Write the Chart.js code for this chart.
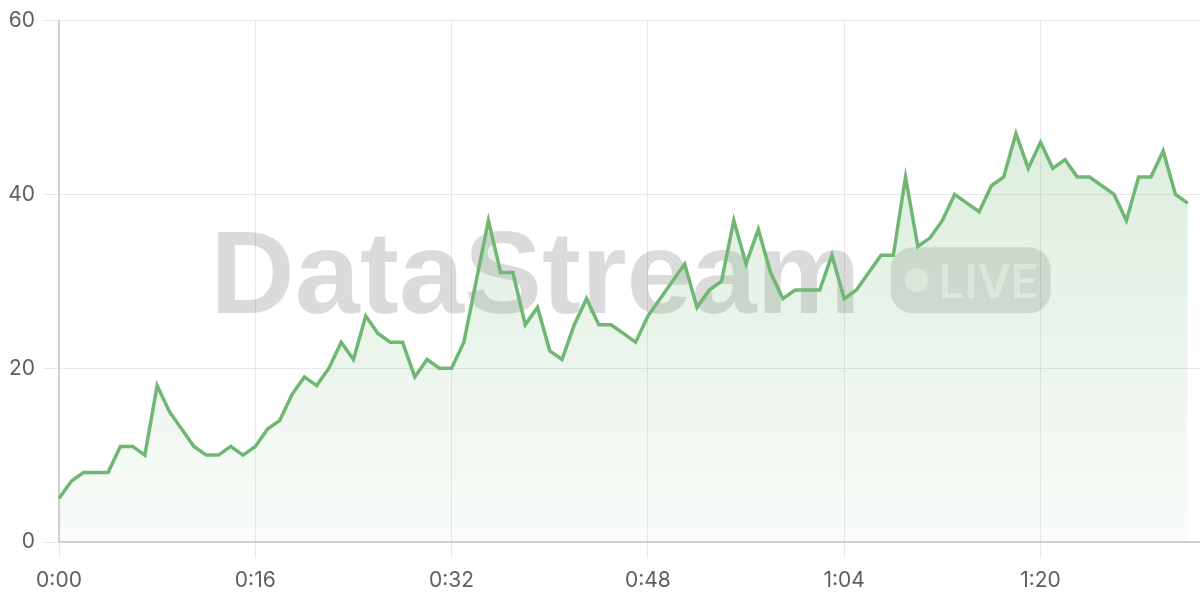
<!DOCTYPE html>
<html>
<head>
<meta charset="utf-8">
<script src="https://cdn.jsdelivr.net/npm/chart.js@4/dist/chart.umd.min.js"></script>
<style>
  html, body { margin: 0; padding: 0; background: #fff; }
  #wrap { width: 1200px; height: 600px; position: relative; }
</style>
</head>
<body>
<div id="wrap"><canvas id="c" width="1200" height="600"></canvas></div>
<script>
// ---- data ----
const timeLabels = ['0:00','0:01','0:02','0:03','0:04','0:05','0:06','0:07','0:08','0:09',
  '0:10','0:11','0:12','0:13','0:14','0:15','0:16','0:17','0:18','0:19',
  '0:20','0:21','0:22','0:23','0:24','0:25','0:26','0:27','0:28','0:29',
  '0:30','0:31','0:32','0:33','0:34','0:35','0:36','0:37','0:38','0:39',
  '0:40','0:41','0:42','0:43','0:44','0:45','0:46','0:47','0:48','0:49',
  '0:50','0:51','0:52','0:53','0:54','0:55','0:56','0:57','0:58','0:59',
  '1:00','1:01','1:02','1:03','1:04','1:05','1:06','1:07','1:08','1:09',
  '1:10','1:11','1:12','1:13','1:14','1:15','1:16','1:17','1:18','1:19',
  '1:20','1:21','1:22','1:23','1:24','1:25','1:26','1:27','1:28','1:29',
  '1:30','1:31','1:32','1:33'];
const values = [5,7,8,8,8,11,11,10,18,15,
  13,11,10,10,11,10,11,13,14,17,
  19,18,20,23,21,26,24,23,23,19,
  21,20,20,23,30,37,31,31,25,27,
  22,21,25,28,25,25,24,23,26,28,
  30,32,27,29,30,37,32,36,31,28,
  29,29,29,33,28,29,31,33,33,42,
  34,35,37,40,39,38,41,42,47,43,
  46,43,44,42,42,41,40,37,42,42,
  45,40,39];
const xTickLabels = ['0:00','0:16','0:32','0:48','1:04','1:20'];
const yTicks = [0, 20, 40, 60];
const watermarkText = 'DataStream';
const badgeText = 'LIVE';

const GREEN = [112, 183, 115];
const FONT = "Inter, sans-serif";

const watermark = {
  id: 'watermark',
  beforeDatasetsDraw(chart) {
    const { ctx, chartArea: a } = chart;
    const cx = (a.left + a.right) / 2 + 1;
    const cy = (a.top + a.bottom) / 2;
    ctx.save();
    ctx.font = "bold 117px 'Liberation Sans', Arial, sans-serif";
    const tw = ctx.measureText(watermarkText).width;
    const gap = 30, bw = 160, bh = 66;
    const total = tw + gap + bw;
    const x0 = cx - total / 2;
    const base = cy + 32;
    ctx.fillStyle = 'rgba(0,0,0,0.14)';
    ctx.textBaseline = 'alphabetic';
    ctx.textAlign = 'left';
    ctx.fillText(watermarkText, x0, base);
    // badge
    const bx = x0 + tw + gap, by = base - bh;
    ctx.beginPath();
    if (ctx.roundRect) ctx.roundRect(bx, by, bw, bh, 22); else ctx.rect(bx, by, bw, bh);
    ctx.fillStyle = 'rgba(0,0,0,0.12)';
    ctx.fill();
    ctx.fillStyle = 'rgba(255,255,255,0.55)';
    ctx.beginPath();
    ctx.arc(bx + 26, by + bh / 2, 12, 0, Math.PI * 2);
    ctx.fill();
    ctx.font = "600 46px Inter, 'Liberation Sans', Arial, sans-serif";
    ctx.fillText(badgeText, bx + 48, by + 51);
    ctx.restore();
  }
};

new Chart(document.getElementById('c'), {
  type: 'line',
  data: {
    labels: timeLabels,
    datasets: [{
      data: values,
      borderColor: `rgb(${GREEN.join(',')})`,
      borderWidth: 3.5,
      pointRadius: 0,
      pointHoverRadius: 0,
      tension: 0,
      fill: 'origin',
      backgroundColor(context) {
        const { chart } = context;
        const a = chart.chartArea;
        if (!a) return `rgba(${GREEN.join(',')},0.15)`;
        const g = chart.ctx.createLinearGradient(0, a.top, 0, a.bottom);
        g.addColorStop(0, `rgba(${GREEN.join(',')},0.30)`);
        g.addColorStop(1, `rgba(${GREEN.join(',')},0.04)`);
        return g;
      }
    }]
  },
  options: {
    responsive: false,
    animation: false,
    devicePixelRatio: 1,
    layout: { padding: { top: 20, right: 0, left: 0, bottom: 0 } },
    plugins: { legend: { display: false }, tooltip: { enabled: false }, title: { display: false } },
    scales: {
      x: {
        type: 'category',
        offset: false,
        afterFit(scale) { scale.height = 58; },
        grid: { color: '#e8e8e8', lineWidth: 1, drawTicks: true, tickLength: 16 },
        border: { color: '#cfcfcf', width: 2 },
        ticks: {
          autoSkip: false,
          maxRotation: 0,
          minRotation: 0,
          padding: 10,
          color: '#5f5f5f',
          font: { family: FONT, size: 21 },
          callback(v) {
            const l = this.getLabelForValue(v);
            return xTickLabels.includes(l) ? l : null;
          }
        }
      },
      y: {
        min: 0,
        max: 60,
        afterFit(scale) { scale.width = 59; },
        afterBuildTicks(scale) { scale.ticks = yTicks.map(v => ({ value: v })); },
        grid: { color: '#e8e8e8', lineWidth: 1, drawTicks: true, tickLength: 16 },
        border: { color: '#cfcfcf', width: 2 },
        ticks: {
          padding: 8,
          color: '#5f5f5f',
          font: { family: FONT, size: 21 }
        }
      }
    }
  },
  plugins: [watermark]
});
</script>
</body>
</html>
